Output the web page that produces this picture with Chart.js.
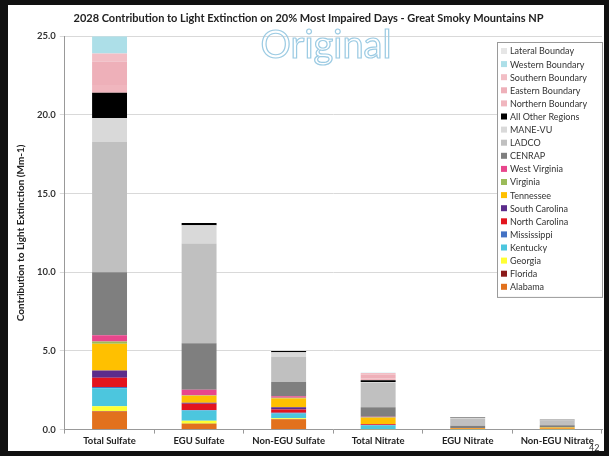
<!DOCTYPE html>
<html>
<head>
<meta charset="utf-8">
<script src="https://cdn.jsdelivr.net/npm/chart.js@4.4.1/dist/chart.umd.min.js"></script>
<style>
  html, body { margin: 0; padding: 0; background: #111; }
  #wrap { position: absolute; left: 8px; top: 5px; width: 596px; height: 446px; background: #fff; }
  #wrap canvas { display: block; }
</style>
</head>
<body>
<div id="wrap"><canvas id="c" width="596" height="446"></canvas></div>
<script>
// categories on the x axis
const categories = ["Total Sulfate", "EGU Sulfate", "Non-EGU Sulfate", "Total Nitrate", "EGU Nitrate", "Non-EGU Nitrate"];
const yTicks = [0, 5, 10, 15, 20, 25];

// source regions, bottom of the stack first
const regions = ["Alabama", "Florida", "Georgia", "Kentucky", "Mississippi", "North Carolina",
  "South Carolina", "Tennessee", "Virginia", "West Virginia", "CENRAP", "LADCO", "MANE-VU",
  "All Other Regions", "Northern Boundary", "Eastern Boundary", "Southern Boundary",
  "Western Boundary", "Lateral Bounday"];
const regionColors = ["#E2711D", "#8B1A1A", "#FFFF33", "#4CC6DE", "#4472C4", "#E3141E",
  "#5B2C8B", "#FFC000", "#9BBB59", "#E8468C", "#7F7F7F", "#C0C0C0", "#D9D9D9",
  "#000000", "#F0B6BE", "#EEB0B9", "#F2BEC5", "#ADDFE8", "#E6E6E6"];

// contribution (Mm-1), one array per region, same order as categories
const alabama       = [1.15, 0.35, 0.65, 0.00, 0.00, 0.00];
const florida       = [0.03, 0.02, 0.02, 0.00, 0.00, 0.00];
const georgia       = [0.30, 0.20, 0.05, 0.02, 0.03, 0.03];
const kentucky      = [1.15, 0.65, 0.30, 0.25, 0.01, 0.01];
const mississippi   = [0.07, 0.03, 0.05, 0.02, 0.00, 0.00];
const northCarolina = [0.60, 0.40, 0.20, 0.05, 0.01, 0.01];
const southCarolina = [0.45, 0.05, 0.15, 0.02, 0.00, 0.00];
const tennessee     = [1.70, 0.45, 0.55, 0.40, 0.05, 0.08];
const virginia      = [0.15, 0.03, 0.05, 0.03, 0.00, 0.00];
const westVirginia  = [0.40, 0.35, 0.10, 0.03, 0.00, 0.00];
const cenrap        = [4.00, 2.95, 0.90, 0.60, 0.15, 0.15];
const ladco         = [8.30, 6.35, 1.60, 1.55, 0.45, 0.28];
const maneVu        = [1.50, 1.15, 0.30, 0.05, 0.05, 0.04];
const allOther      = [1.60, 0.15, 0.08, 0.12, 0.03, 0.02];
const northernBnd   = [0.50, 0.00, 0.00, 0.10, 0.00, 0.00];
const easternBnd    = [1.50, 0.00, 0.00, 0.25, 0.00, 0.00];
const southernBnd   = [0.50, 0.00, 0.00, 0.10, 0.00, 0.00];
const westernBnd    = [1.10, 0.00, 0.00, 0.02, 0.00, 0.00];
const lateralBnd    = [0.05, 0.00, 0.00, 0.00, 0.00, 0.00];

const values = [alabama, florida, georgia, kentucky, mississippi, northCarolina, southCarolina,
  tennessee, virginia, westVirginia, cenrap, ladco, maneVu, allOther, northernBnd, easternBnd,
  southernBnd, westernBnd, lateralBnd];

const FONT = "Lato, 'Open Sans', sans-serif";

// legend box inside the plot, top-right, last region on top
const boxLegend = {
  id: "boxLegend",
  afterDraw(chart) {
    const ctx = chart.ctx;
    const x = 489, y = 37, w = 105, rowH = 13.1;
    const n = chart.data.datasets.length;
    ctx.save();
    ctx.fillStyle = "#fff";
    ctx.fillRect(x, y, w, n * rowH + 6);
    ctx.strokeStyle = "#9a9a9a";
    ctx.lineWidth = 1;
    ctx.strokeRect(x + 0.5, y + 0.5, w, n * rowH + 6);
    ctx.font = "9px " + FONT;
    ctx.textBaseline = "middle";
    for (let i = 0; i < n; i++) {
      const ds = chart.data.datasets[n - 1 - i];
      const cy = y + 9 + i * rowH;
      ctx.fillStyle = ds.backgroundColor;
      ctx.fillRect(x + 4, cy - 3, 6, 6);
      ctx.fillStyle = "#333";
      ctx.fillText(ds.label, x + 13, cy + 0.5);
    }
    ctx.restore();
  }
};

// watermark and page number
const extras = {
  id: "extras",
  afterDraw(chart) {
    const ctx = chart.ctx;
    ctx.save();
    ctx.font = "38px " + FONT;
    ctx.textAlign = "center";
    ctx.textBaseline = "middle";
    ctx.lineWidth = 1.2;
    ctx.strokeStyle = "#9ccbe3";
    ctx.strokeText("Original", 318, 41);
    ctx.font = "9px " + FONT;
    ctx.fillStyle = "#333";
    ctx.textAlign = "left";
    ctx.fillText("42", 581, 443);
    ctx.restore();
  }
};

new Chart(document.getElementById("c"), {
  type: "bar",
  data: {
    labels: categories,
    datasets: regions.map((r, i) => ({
      label: r,
      data: values[i],
      backgroundColor: regionColors[i],
      borderWidth: 0,
      barPercentage: 0.39,
      categoryPercentage: 1
    }))
  },
  options: {
    responsive: false,
    animation: false,
    layout: { padding: { top: 0, right: 2, bottom: 2, left: 7 } },
    plugins: {
      legend: { display: false },
      tooltip: { enabled: false },
      title: {
        display: true,
        text: "2028 Contribution to Light Extinction on 20% Most Impaired Days - Great Smoky Mountains NP",
        color: "#222",
        font: { family: FONT, size: 11, weight: "bold" },
        padding: { top: 7, bottom: 11 }
      }
    },
    scales: {
      x: {
        stacked: true,
        grid: { display: true, offset: true, drawOnChartArea: false, tickLength: 4, color: "#999" },
        border: { color: "#999" },
        ticks: { color: "#222", font: { family: FONT, size: 9.5, weight: "bold" }, padding: 2, maxRotation: 0 }
      },
      y: {
        stacked: true,
        min: 0,
        max: 25,
        afterBuildTicks(axis) { axis.ticks = yTicks.map(v => ({ value: v })); },
        grid: { color: "#d9d9d9", tickLength: 5 },
        border: { color: "#999" },
        ticks: {
          color: "#333",
          font: { family: FONT, size: 9.5, weight: "bold" },
          padding: 4,
          callback: v => v.toFixed(1)
        },
        title: {
          display: true,
          text: "Contribution to Light Extinction (Mm-1)",
          color: "#222",
          font: { family: FONT, size: 10, weight: "bold" },
          padding: { top: 0, bottom: 6 }
        }
      }
    }
  },
  plugins: [boxLegend, extras]
});
</script>
</body>
</html>
